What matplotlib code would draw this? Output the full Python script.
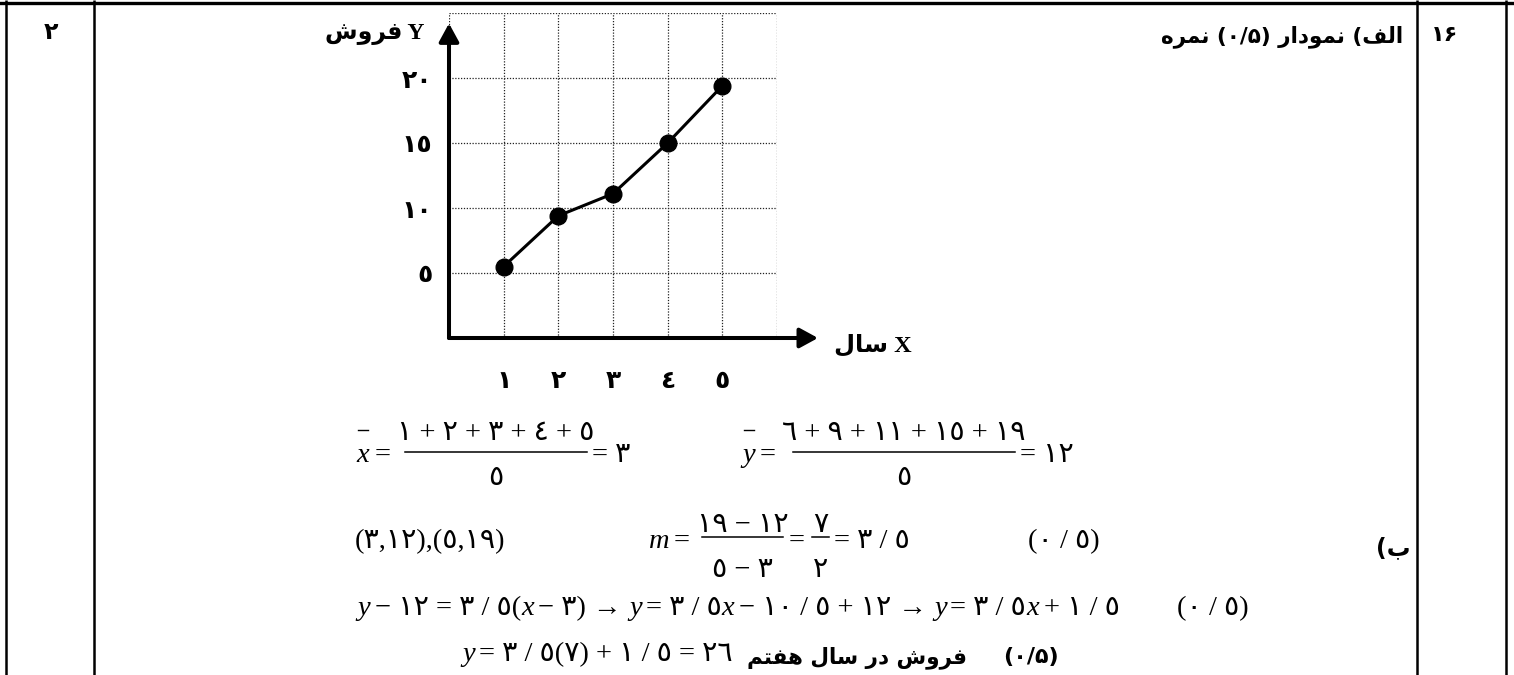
import matplotlib
matplotlib.use('Agg')
import matplotlib.pyplot as plt

plt.rcParams['font.family'] = ['Liberation Serif', 'DejaVu Sans']

years = [1, 2, 3, 4, 5]
sales = [5.5, 9.4, 11.1, 15.0, 19.4]

# grid positions and their labels (arabic-indic digits)
x_grid = [0, 1, 2, 3, 4, 5, 6]
x_labels = ['', '\u0661', '\u0662', '\u0663', '\u0664', '\u0665', '']
y_grid = [0, 5, 10, 15, 20, 25]
y_labels = ['', '\u0665', '\u0661\u0660', '\u0661\u0665', '\u0662\u0660', '']

# persian words, already shaped and in visual (left to right) order
FOROOSH = '\uFEB5\uFEED\uFEAE\uFED3'            # فروش
SAL = '\uFEDD\uFE8E\uFEB3'                       # سال
DAR = '\uFEAD\uFEA9'                             # در
HAFTOM = '\uFEE2\uFE98\uFED4\uFEEB'              # هفتم
ALEF = '\uFED2\uFEDF\uFE8D'                      # الف
NEMUDAR = '\uFEAD\uFE8D\uFEA9\uFEEE\uFEE4\uFEE7'  # نمودار
NOMREH = '\uFEE9\uFEAE\uFEE4\uFEE7'              # نمره
BE = '\uFE8F'                                    # ب

EQ = ['Liberation Serif', 'DejaVu Sans']
FA = ['DejaVu Sans']
ES = 20.5  # equation font size

W, H = 1514, 675
fig = plt.figure(figsize=(W / 100, H / 100), dpi=100)
page = fig.add_axes([0, 0, 1, 1])
page.set_xlim(0, W)
page.set_ylim(H, 0)
page.axis('off')
R = fig.canvas.get_renderer()


def put(x, y, s, size=ES, style='normal', ha='left', family=EQ, weight='normal'):
    return page.text(x, y, s, fontsize=size, style=style, ha=ha, va='baseline',
                     family=family, weight=weight)


def run(x, y, parts, size=ES):
    for p in parts:
        if isinstance(p, (int, float)):
            x += p
            continue
        s, it = p
        t = put(x, y, s, size, 'italic' if it else 'normal')
        x = t.get_window_extent(R).x1
    return x


def bar_over(t, y):
    bb = t.get_window_extent(R)
    page.plot([bb.x0 + 2, bb.x1 - 1], [y, y], color='black', lw=1)


def frac(x0, x1, ybar, num, den, ynum, yden, size=ES):
    page.plot([x0, x1], [ybar, ybar], color='black', lw=1.1)
    xc = (x0 + x1) / 2
    put(xc, ynum, num, size, ha='center')
    put(xc, yden, den, size, ha='center')


# table frame
for xv in [6, 94, 1417, 1506]:
    page.plot([xv, xv], [0, H], color='black', lw=1.8, solid_capstyle='butt')
page.plot([0, W], [3, 3], color='black', lw=2.4)

# header cells
put(51, 39, '\u06F2', 17, ha='center', family=FA, weight='bold')
put(1444, 41, '\u06F1\u06F6', 16, ha='center', family=FA, weight='bold')
put(1403, 42, NOMREH + ' (\u06F0/\u06F5) ' + NEMUDAR + ' (' + ALEF, 15.5,
    ha='right', family=FA, weight='bold')

# chart
ax = fig.add_axes([449 / W, 1 - 338 / H, (777 - 449) / W, (338 - 13) / H])
ax.plot(years, sales, color='black', lw=2.2, marker='o', ms=12, zorder=5, clip_on=False)
ax.set_xlim(0, 6)
ax.set_ylim(0, 25)
ax.set_xticks(x_grid, x_labels)
ax.set_yticks(y_grid, y_labels)
ax.set_axisbelow(True)
ax.grid(True, color='#222222', lw=0.9, ls=(0, (1, 1.3)))
for s in ax.spines.values():
    s.set_visible(False)
ax.tick_params(length=0, labelsize=18)
ax.tick_params(axis='x', pad=22)
ax.tick_params(axis='y', pad=12)
for lab in ax.get_xticklabels() + ax.get_yticklabels():
    lab.set_fontweight('bold')
    lab.set_family(FA)
arrow = dict(arrowstyle='-|>,head_length=0.55,head_width=0.3', color='black', lw=2.9,
             mutation_scale=20, shrinkA=0, shrinkB=0)
ax.annotate('', xy=(6.75, 0), xytext=(0, 0), arrowprops=arrow, annotation_clip=False)
ax.annotate('', xy=(0, 24.2), xytext=(0, 0), arrowprops=arrow, annotation_clip=False)

put(424, 39, FOROOSH + ' Y', 17, ha='right', weight='bold')
put(834, 352, SAL + ' X', 17.5, weight='bold')

# line 1: means
t = put(356, 462, 'x', style='italic')
bar_over(t, 430)
put(375, 462, '=')
frac(405, 587, 452, '\u0661 + \u0662 + \u0663 + \u0664 + \u0665', '\u0665', 440, 485)
put(592, 462, '= \u0663')
t = put(742, 462, 'y', style='italic')
bar_over(t, 430)
put(760, 462, '=')
frac(793, 1015, 452, '\u0666 + \u0669 + \u0661\u0661 + \u0661\u0665 + \u0661\u0669', '\u0665', 440, 485)
put(1020, 462, '= \u0661\u0662')

# line 2: slope
put(355, 548, '(\u0663,\u0661\u0662),(\u0665,\u0661\u0669)')
put(649, 548, 'm', style='italic')
put(674, 548, '=')
frac(702, 783, 537, '\u0661\u0669 \u2212 \u0661\u0662', '\u0665 \u2212 \u0663', 532, 577)
put(789, 548, '=')
frac(812, 829, 537, '\u0667', '\u0662', 532, 577)
put(834, 548, '= \u0663 / \u0665')
put(1028, 548, '(\u0660 / \u0665)')
put(1410, 555, '(' + BE, 17, ha='right', family=FA, weight='bold')

# line 3: line equation
run(357, 615, [('y', 1), 5, ('\u2212 \u0661\u0662 = \u0663 / \u0665(', 0), ('x', 1), 5,
               ('\u2212 \u0663) \u2192', 0), 7, ('y', 1), 4, ('= \u0663 / \u0665', 0), ('x', 1), 5,
               ('\u2212 \u0661\u0660 / \u0665 + \u0661\u0662 \u2192', 0), 7, ('y', 1), 4,
               ('= \u0663 / \u0665', 0), ('x', 1), 5, ('+ \u0661 / \u0665', 0)])
put(1177, 615, '(\u0660 / \u0665)')

# line 4: prediction for year seven
run(462, 661, [('y', 1), 4, ('= \u0663 / \u0665(\u0667) + \u0661 / \u0665 = \u0662\u0666', 0)])
put(747, 663, HAFTOM + ' ' + SAL + ' ' + DAR + ' ' + FOROOSH, 15.5, family=FA, weight='bold')
put(1003, 663, '(\u06F0/\u06F5)', 16, family=FA, weight='bold')

fig.savefig('out.png', dpi=100)
